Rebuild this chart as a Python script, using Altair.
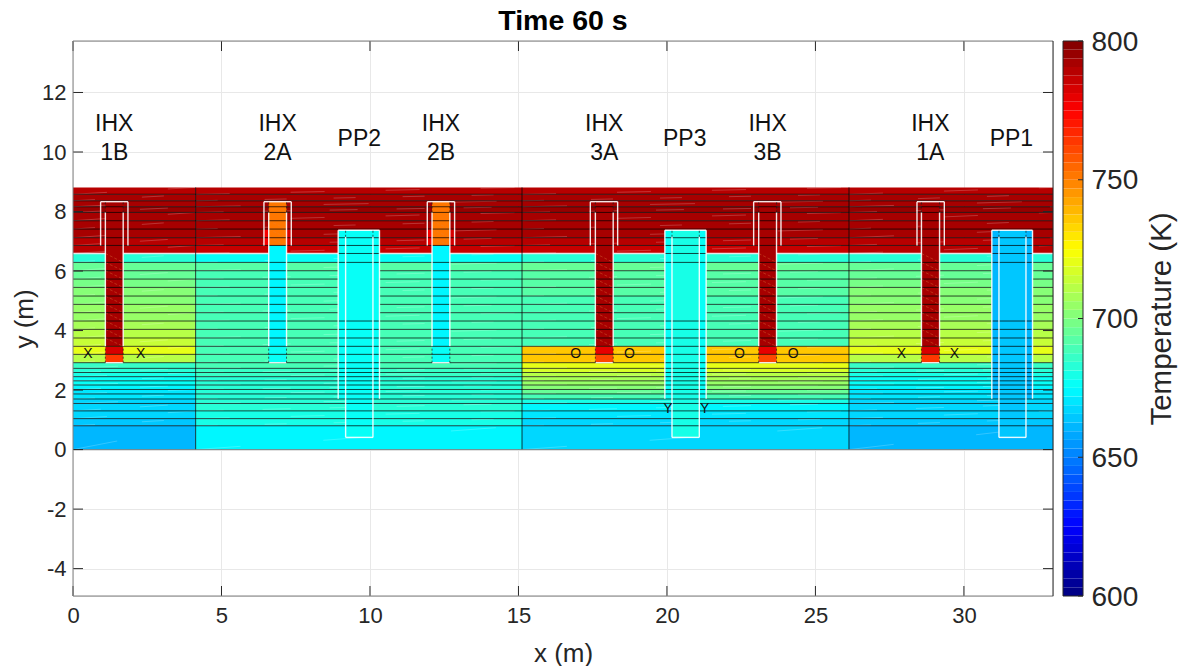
import altair as alt
import numpy as np
import pandas as pd

FONT = "Liberation Sans"
DARK = "#262626"

# ---- horizontal mesh rows (top -> bottom, metres)
row_edges = [8.81, 8.58, 8.36, 8.16, 7.97, 7.69, 7.41, 7.12, 6.86, 6.59, 6.29, 6.01, 5.73, 5.45,
             5.16, 4.88, 4.60, 4.32, 4.04, 3.75, 3.47, 3.20, 2.92, 2.73, 2.59, 2.45, 2.31, 2.17,
             2.02, 1.87, 1.70, 1.55, 1.30, 1.04, 0.80, 0.0]
# temperature per row in each zone (K)
T_side = [790, 791, 792, 794, 793, 793, 792, 790, 788,
          684, 694, 696, 698, 700, 702, 704, 706, 708, 711, 714, 721, 712,
          687, 684, 681, 678, 675, 673, 671, 669, 668, 667, 666, 664, 662]
T_mid = [790, 791, 793, 794, 793, 793, 792, 790, 785,
         677, 691, 690, 689, 689, 688, 688, 688, 688, 688, 689, 690, 690,
         688, 686, 685, 684, 683, 683, 683, 683, 683, 682, 681, 680, 672]
T_loop3 = [790, 791, 793, 794, 793, 793, 792, 790, 787,
           682, 694, 693, 692, 691, 690, 689, 689, 688, 688, 689, 735, 736,
           720, 716, 712, 708, 704, 700, 695, 688, 681, 672, 669, 668, 666]
zone_x = [(0.0, 4.13, T_side), (4.13, 15.12, T_mid), (15.12, 26.13, T_loop3), (26.13, 33.0, T_side)]
zone_walls = [4.13, 15.12, 26.13]

# ---- heat exchangers
ihx_inner_l = [1.09, 6.59, 12.09, 17.59, 23.09, 28.57]
ihx_inner_r = [1.69, 7.19, 12.69, 18.19, 23.69, 29.18]
ihx_outer_l = [0.93, 6.43, 11.93, 17.42, 22.92, 28.42]
ihx_outer_r = [1.85, 7.35, 12.85, 18.34, 23.84, 29.34]
ihx_T_main = [793, 672, 672, 793, 793, 793]
ihx_T_hot = [793, 750, 750, 793, 793, 793]
ihx_T_band1 = [784, 675, 675, 780, 780, 784]
ihx_T_band2 = [765, 675, 675, 762, 762, 765]
IHX_TOP, IHX_SHROUD, IHX_BOT = 8.33, 6.86, 2.92

# ---- pumps
pp_outer_l = [8.93, 19.93, 30.94]
pp_outer_r = [10.32, 21.32, 32.31]
pp_inner_l = [9.18, 20.17, 31.18]
pp_inner_r = [10.10, 21.09, 32.09]
pp_T_outer = [675, 677, 661]
pp_T_inner = [676, 680, 665]
PP_TOP, PP_SHROUD, PP_BOT = 7.37, 1.71, 0.41

# ---- labels
name_x = [1.39, 6.89, 9.64, 12.39, 17.89, 20.6, 23.39, 28.87, 31.6]
name_y = [10.94, 10.94, 10.45, 10.94, 10.94, 10.45, 10.94, 10.94, 10.45]
name_a = ["IHX", "IHX", "PP2", "IHX", "IHX", "PP3", "IHX", "IHX", "PP1"]
name_b = ["1B", "2A", "", "2B", "3A", "", "3B", "1A", ""]
mark_x = [0.5, 2.28, 27.9, 29.68, 16.93, 18.74, 22.44, 24.25, 20.03, 21.27]
mark_y = [3.2, 3.2, 3.2, 3.2, 3.2, 3.2, 3.2, 3.2, 1.37, 1.37]
mark_t = ["X", "X", "X", "X", "O", "O", "O", "O", "Y", "Y"]

x_ticks = [0, 5, 10, 15, 20, 25, 30]
y_ticks = [-4, -2, 0, 2, 4, 6, 8, 10, 12]
cbar_ticks = [600, 650, 700, 750, 800]
X_DOMAIN = [0, 33]
Y_DOMAIN = [-4.92, 13.73]
W, H = 980, 555


def jet(n=64):
    out = []
    for i in range(n):
        t = (i + 0.5) / n
        r = np.clip(min(4 * t - 1.5, -4 * t + 4.5), 0, 1)
        g = np.clip(min(4 * t - 0.5, -4 * t + 3.5), 0, 1)
        b = np.clip(min(4 * t + 0.5, -4 * t + 2.5), 0, 1)
        out.append("#%02x%02x%02x" % (int(r * 255), int(g * 255), int(b * 255)))
    return out


color_scale = alt.Scale(type="quantize", domain=[600, 800], range=jet())
xs = alt.Scale(domain=X_DOMAIN, nice=False, zero=False)
ys = alt.Scale(domain=Y_DOMAIN, nice=False, zero=False)
cs = alt.Scale(domain=[600, 800], nice=False, zero=False)

X_AXIS = alt.Axis(orient="bottom", values=x_ticks, grid=True, gridColor="#e8e8e8", gridWidth=1, ticks=False,
                  domain=False, labelFont=FONT, labelFontSize=22, labelColor=DARK, labelPadding=9,
                  labelFlush=False, titleFont=FONT, titleFontSize=26, titleFontWeight="normal", titleColor=DARK,
                  titlePadding=14, format="d")


def X(field):
    return alt.X(field, scale=xs, title="x (m)", axis=X_AXIS)


def Y(field):
    return alt.Y(field, scale=ys, axis=None)


# build tables
zones, flecks = [], []
for x0, x1, T in zone_x:
    for i, t in enumerate(T):
        zones.append(dict(x0=x0, x1=x1, y0=row_edges[i + 1], y1=row_edges[i], T=t))
        flecks.append(dict(x0=x0, x1=x1, y0=row_edges[i + 1], y1=row_edges[i], g=i % 4))

cols = []
for k in range(6):
    l, r = ihx_inner_l[k], ihx_inner_r[k]
    cols += [dict(x0=l, x1=r, y0=3.47, y1=IHX_SHROUD, T=ihx_T_main[k]),
             dict(x0=l, x1=r, y0=IHX_SHROUD, y1=IHX_TOP, T=ihx_T_hot[k]),
             dict(x0=l, x1=r, y0=3.20, y1=3.47, T=ihx_T_band1[k]),
             dict(x0=l, x1=r, y0=IHX_BOT, y1=3.20, T=ihx_T_band2[k])]
    if ihx_T_hot[k] == 750:
        cols += [dict(x0=ihx_outer_l[k], x1=l, y0=IHX_SHROUD, y1=7.41, T=775),
                 dict(x0=r, x1=ihx_outer_r[k], y0=IHX_SHROUD, y1=7.41, T=782)]
for k in range(3):
    cols += [dict(x0=pp_outer_l[k], x1=pp_outer_r[k], y0=PP_SHROUD, y1=PP_TOP, T=pp_T_outer[k]),
             dict(x0=pp_inner_l[k], x1=pp_inner_r[k], y0=PP_BOT, y1=PP_TOP, T=pp_T_inner[k])]

mesh = []
for y in row_edges[1:-1]:
    if y == 6.59 or 4.5 < y < 6.1:
        edges = [0.0]
        for l, r in zip(pp_outer_l, pp_outer_r):
            edges += [l, r]
        edges.append(33.0)
        if y == 6.59:
            for l, r in zip(pp_outer_l, pp_outer_r):
                mesh.append(dict(x0=l, x1=r, y0=y, y1=y))
        else:
            for a, b in zip(edges[::2], edges[1::2]):
                mesh.append(dict(x0=a, x1=b, y0=y, y1=y))
    else:
        mesh.append(dict(x0=0.0, x1=33.0, y0=y, y1=y))

white, dotted, hatch = [], [], []
for k in range(6):
    l, r, ol, or_ = ihx_inner_l[k], ihx_inner_r[k], ihx_outer_l[k], ihx_outer_r[k]
    white += [dict(x0=ol, x1=ol, y0=IHX_SHROUD, y1=IHX_TOP), dict(x0=or_, x1=or_, y0=IHX_SHROUD, y1=IHX_TOP),
              dict(x0=ol, x1=or_, y0=IHX_TOP, y1=IHX_TOP), dict(x0=l, x1=l, y0=3.47, y1=7.97),
              dict(x0=r, x1=r, y0=3.47, y1=7.97), dict(x0=l, x1=r, y0=IHX_BOT, y1=IHX_BOT)]
    dotted += [dict(x0=l, x1=l, y0=7.97, y1=IHX_TOP), dict(x0=r, x1=r, y0=7.97, y1=IHX_TOP),
               dict(x0=l, x1=l, y0=IHX_BOT, y1=3.47), dict(x0=r, x1=r, y0=IHX_BOT, y1=3.47)]
    for i, y in enumerate(row_edges[:-1]):
        lo = row_edges[i + 1]
        if lo >= 3.47 and y <= 6.59 and ihx_T_main[k] > 700:
            hatch.append(dict(x0=l, x1=r, y0=y, y1=lo))
        if lo >= IHX_SHROUD and y <= 7.69 and ihx_T_hot[k] == 750:
            hatch.append(dict(x0=l, x1=r, y0=y, y1=lo))
for k in range(3):
    ol, or_, l, r = pp_outer_l[k], pp_outer_r[k], pp_inner_l[k], pp_inner_r[k]
    white += [dict(x0=ol, x1=ol, y0=PP_SHROUD, y1=PP_TOP), dict(x0=or_, x1=or_, y0=PP_SHROUD, y1=PP_TOP),
              dict(x0=ol, x1=or_, y0=PP_TOP, y1=PP_TOP), dict(x0=l, x1=l, y0=PP_BOT, y1=7.15),
              dict(x0=r, x1=r, y0=PP_BOT, y1=7.15), dict(x0=l, x1=r, y0=PP_BOT, y1=PP_BOT)]
    dotted += [dict(x0=l, x1=l, y0=7.15, y1=PP_TOP), dict(x0=r, x1=r, y0=7.15, y1=PP_TOP)]

names = pd.DataFrame(dict(x=name_x, y=name_y, a=name_a, b=name_b))
marks = pd.DataFrame(dict(x=mark_x, y=mark_y, t=mark_t))


def rects(rows):
    return alt.Chart(pd.DataFrame(rows)).mark_rect(strokeWidth=0).encode(
        x=X("x0:Q"), x2="x1:Q", y=Y("y0:Q"), y2="y1:Q",
        color=alt.Color("T:Q", scale=color_scale, legend=None))


def segs(rows, **kw):
    return alt.Chart(pd.DataFrame(rows)).mark_rule(**kw).encode(
        x=X("x0:Q"), x2="x1:Q", y=Y("y0:Q"), y2="y1:Q")


grid = alt.Chart(pd.DataFrame(dict(x=[0.0], y=[0.0]))).mark_point(opacity=0).encode(
    x=X("x:Q"),
    y=alt.Y("y:Q", scale=ys, title="y (m)",
            axis=alt.Axis(orient="left", values=y_ticks, grid=True, gridColor="#e8e8e8", gridWidth=1, ticks=False,
                          domain=False, labelFont=FONT, labelFontSize=22, labelColor=DARK, labelPadding=7,
                          titleFont=FONT, titleFontSize=26, titleFontWeight="normal", titleColor=DARK,
                          titlePadding=4, labelExpr="replace(datum.label, '\u2212', '-')")))

walls = [dict(x0=v, x1=v, y0=0.0, y1=8.81) for v in zone_walls]
boundary = [dict(x0=0.0, x1=33.0, y0=6.59, y1=6.59)]
base_edge = [dict(x0=0.0, x1=33.0, y0=0.0, y1=0.0)]

xt = pd.DataFrame(dict(v=x_ticks))
yt = pd.DataFrame(dict(v=y_ticks))
tick_kw = dict(color=DARK, strokeWidth=1)
ticks = [
    alt.Chart(xt).mark_rule(**tick_kw).encode(x=X("v:Q"), y=alt.value(H), y2=alt.value(H - 10)),
    alt.Chart(xt).mark_rule(**tick_kw).encode(x=X("v:Q"), y=alt.value(0), y2=alt.value(10)),
    alt.Chart(yt).mark_rule(**tick_kw).encode(y=Y("v:Q"), x=alt.value(0), x2=alt.value(10)),
    alt.Chart(yt).mark_rule(**tick_kw).encode(y=Y("v:Q"), x=alt.value(W), x2=alt.value(W - 10)),
]
one = pd.DataFrame(dict(a=[0]))
frame = [
    alt.Chart(one).mark_rule(color="#808080", strokeWidth=1).encode(x=alt.value(0), y=alt.value(0), y2=alt.value(H)),
    alt.Chart(one).mark_rule(color="#808080", strokeWidth=1).encode(y=alt.value(0), x=alt.value(0), x2=alt.value(W)),
    alt.Chart(one).mark_rule(color="#808080", strokeWidth=1).encode(y=alt.value(H), x=alt.value(0), x2=alt.value(W)),
    alt.Chart(one).mark_rule(color=DARK, strokeWidth=1).encode(x=alt.value(W), y=alt.value(0), y2=alt.value(H)),
]

text_kw = dict(font=FONT, fontSize=23, color="#111111", align="center", baseline="middle")

# faint streaks of the interpolated cells, in four dash rhythms so they do not line up
fleck_dashes = [[34, 61], [22, 47], [45, 83], [28, 39]]
fleck_layers = [
    segs([f for f in flecks if f["g"] == g], color="white", opacity=0.2, strokeWidth=1, strokeDash=d)
    for g, d in enumerate(fleck_dashes)
]

# colour bar
cb_lo = np.arange(64) * 200 / 64 + 600
cb = pd.DataFrame(dict(lo=cb_lo, hi=cb_lo + 200 / 64, T=cb_lo + 100 / 64))
CB_L, CB_R = W + 10, W + 30
bar = alt.Chart(cb).mark_rect(strokeWidth=0).encode(
    x=alt.value(CB_L), x2=alt.value(CB_R),
    y=alt.Y("lo:Q", scale=cs, title="Temperature (K)",
            axis=alt.Axis(orient="right", offset=30, values=cbar_ticks, ticks=False, domain=False, grid=False,
                          labelFont=FONT, labelFontSize=28, labelColor=DARK, labelPadding=8, labelOffset=1,
                          titleFont=FONT, titleFontSize=29.5, titleFontWeight="normal", titleColor=DARK,
                          titleAngle=270, titleBaseline="bottom", titlePadding=39, format="d")),
    y2="hi:Q",
    color=alt.Color("T:Q", scale=color_scale, legend=None))
cb_ticks = alt.Chart(pd.DataFrame(dict(v=cbar_ticks))).mark_rule(color=DARK, strokeWidth=1).encode(
    y=alt.Y("v:Q", scale=cs, axis=None), x=alt.value(CB_R - 5), x2=alt.value(CB_R))
cb_frame = alt.Chart(pd.DataFrame(dict(a=[600], b=[800]))).mark_rect(
    fillOpacity=0, stroke=DARK, strokeWidth=1, fill="white").encode(
    y=alt.Y("a:Q", scale=cs, axis=None), y2="b:Q", x=alt.value(CB_L), x2=alt.value(CB_R))

chart = alt.layer(
    grid,
    rects(zones),
    *fleck_layers,
    segs(boundary, color="#e6e6e6", strokeWidth=1.6),
    rects(cols),
    segs(hatch, color="#e08040", opacity=0.45, strokeWidth=0.8, strokeDash=[3, 2]),
    segs(mesh, color="#000000", opacity=0.72, strokeWidth=1),
    segs(walls, color="#000000", opacity=0.75, strokeWidth=1),
    segs(base_edge, color="#707070", opacity=0.8, strokeWidth=1),
    segs(white, color="white", opacity=0.9, strokeWidth=1.4),
    segs(dotted, color="#202020", opacity=0.7, strokeWidth=1, strokeDash=[2, 2]),
    alt.Chart(names).mark_text(**text_kw).encode(x=X("x:Q"), y=Y("y:Q"), text="a:N"),
    alt.Chart(names[names.b != ""]).mark_text(dy=29, **text_kw).encode(x=X("x:Q"), y=Y("y:Q"), text="b:N"),
    alt.Chart(marks).mark_text(font=FONT, fontSize=14, color="#111111", align="center", baseline="middle").encode(
        x=X("x:Q"), y=Y("y:Q"), text="t:N"),
    *ticks, *frame,
    bar, cb_ticks, cb_frame,
).resolve_scale(y="independent").properties(
    width=W, height=H,
    title=alt.TitleParams("Time 60 s", font=FONT, fontSize=28.5, fontWeight="bold", color="#000000",
                          anchor="middle", offset=-7),
    autosize=alt.AutoSizeParams(type="none"),
    padding={"left": 65, "top": 33, "right": 133, "bottom": 70},
).configure_view(stroke=None).configure(background="white")

chart.save("out.html", embed_options={"renderer": "svg", "actions": False})
